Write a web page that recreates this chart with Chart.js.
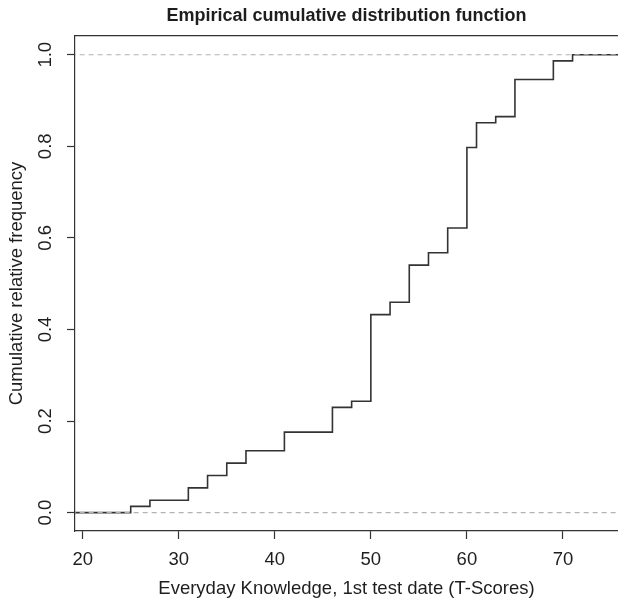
<!DOCTYPE html>
<html><head><meta charset="utf-8">
<script src="https://cdn.jsdelivr.net/npm/chart.js@4"></script>
<style>html,body{margin:0;padding:0;background:#fff;overflow:hidden}#wrap{width:618px;height:601px;position:relative}</style>
</head><body><div id="wrap"><canvas id="c" width="618" height="601"></canvas></div>
<script>
const scores = [25,27,31,33,35,37,41,46,48,50,52,54,56,58,60,61,63,65,69,71];
const counts = [1,1,2,2,2,2,3,4,1,14,2,6,2,4,13,4,1,6,3,1];
const xTicks = [20,30,40,50,60,70];
const yTicks = [0,0.2,0.4,0.6,0.8,1.0];
const xRange = [19.2, 75.73];
const yRange = [-0.0402, 1.0409];
const refLines = [0, 1];
const lineExtent = [15, 80];

const FONT = "'Liberation Sans', Arial, Helvetica, sans-serif";
const LINE = '#333333';
const TEXT = '#1e1e1e';

const n = counts.reduce((a,b)=>a+b,0);
let acc = 0;
const cum = counts.map(c => (acc += c) / n);
const ecdfData = [{x: lineExtent[0], y: 0}]
  .concat(scores.map((s,i)=>({x:s, y:cum[i]})))
  .concat([{x: lineExtent[1], y: 1}]);

const refSets = refLines.map(v => ({
  data: [{x: lineExtent[0], y: v}, {x: lineExtent[1], y: v}],
  borderColor: '#b3b3b3', borderWidth: 1.2, borderDash: [5,4],
  pointRadius: 0, fill: false, clip: 0, order: 0
}));

new Chart(document.getElementById('c'), {
  type: 'line',
  data: {
    datasets: [
      ...refSets,
      { data: ecdfData, stepped: true, borderColor: LINE, borderWidth: 1.6,
        pointRadius: 0, fill: false, clip: 0, order: 1 }
    ]
  },
  options: {
    responsive: false, animation: false, devicePixelRatio: 1,
    layout: { padding: 0 },
    parsing: false,
    plugins: { legend: {display:false}, tooltip: {enabled:false}, title: {display:false} },
    scales: {
      x: {
        type: 'linear', position: 'bottom', min: xRange[0], max: xRange[1],
        afterBuildTicks: s => { s.ticks = xTicks.map(v => ({value: v})); },
        afterFit: s => { s.height = 70; },
        grid: { display: true, drawOnChartArea: false, drawTicks: true, tickLength: 8, tickColor: LINE, tickWidth: 1.2 },
        border: { display: true, color: LINE, width: 1.2 },
        ticks: { color: TEXT, font: {family: FONT, size: 18.5}, padding: 10, maxRotation: 0, autoSkip: false,
                 callback: v => String(v) },
        title: { display: true, text: 'Everyday Knowledge, 1st test date (T-Scores)', color: TEXT,
                 font: {family: FONT, size: 18.5}, padding: {top: 0, bottom: 1} }
      },
      x2: {
        type: 'linear', position: 'top', min: xRange[0], max: xRange[1],
        afterFit: s => { s.height = 36; },
        grid: { display: true, drawOnChartArea: false, drawTicks: false },
        border: { display: true, color: LINE, width: 1.2 },
        ticks: { display: false },
        title: { display: true, text: 'Empirical cumulative distribution function', color: TEXT,
                 font: {family: FONT, size: 18, weight: 'bold'}, padding: {top: 5, bottom: 0} }
      },
      y: {
        type: 'linear', position: 'left', min: yRange[0], max: yRange[1],
        afterBuildTicks: s => { s.ticks = yTicks.map(v => ({value: v})); },
        afterFit: s => { s.width = 75; },
        grid: { display: true, drawOnChartArea: false, drawTicks: true, tickLength: 8, tickColor: LINE, tickWidth: 1.2 },
        border: { display: true, color: LINE, width: 1.2 },
        ticks: { color: TEXT, font: {family: FONT, size: 18.5}, padding: 8, minRotation: 90, maxRotation: 90,
                 crossAlign: 'center', autoSkip: false, callback: v => Number(v).toFixed(1) },
        title: { display: true, text: 'Cumulative relative frequency', color: TEXT,
                 font: {family: FONT, size: 18.5}, padding: {top: 6, bottom: 0} }
      }
    }
  }
});
</script></body></html>
